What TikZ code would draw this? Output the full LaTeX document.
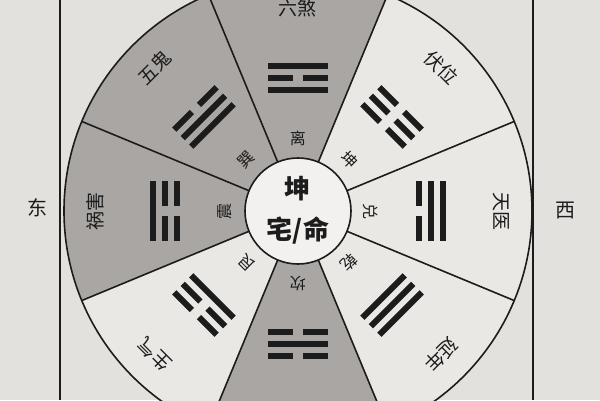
\documentclass[tikz,border=0pt]{standalone}
\usepackage{fontspec}
\newfontfamily\cjk{Noto Sans CJK SC}
\usetikzlibrary{calc}

\definecolor{paper}{HTML}{E3E1DE}
\definecolor{darksec}{HTML}{A9A6A3}
\definecolor{lightsec}{HTML}{EAE8E5}
\definecolor{hubfill}{HTML}{F2F1EF}
\definecolor{ink}{HTML}{1C1C1C}

\tikzset{
  yao/.style={line width=6, ink},
  rim/.style={line width=1.6, ink},
  gua/.style={font=\cjk\fontsize{16}{16}\selectfont, text=ink, inner sep=0},
  palace/.style={font=\cjk\fontsize{19}{19}\selectfont, text=ink, inner sep=0},
  hubtext/.style={font=\cjk\bfseries\fontsize{26}{26}\selectfont, text=ink, inner sep=0},
  side/.style={font=\cjk\fontsize{20}{20}\selectfont, text=ink, inner sep=0},
}

\begin{document}
\begin{tikzpicture}[x=1pt,y=1pt]
  % page and frame
  \useasboundingbox (-298,-189) rectangle (302,211);
  \fill[paper] (-298,-189) rectangle (302,211);
  \clip (-298,-189) rectangle (302,211);
  \coordinate (O) at (0,0);
  % the two table rules
  \draw[rim] (-238,-189) -- (-238,211);
  \draw[rim] (235,-189) -- (235,211);
  % eight sectors, dark ones first
  \foreach \a in {90,135,180,270}
    \fill[darksec] (O) -- (\a-22.5:234) arc[start angle=\a-22.5, end angle=\a+22.5, radius=234] -- cycle;
  \foreach \a in {45,0,315,225}
    \fill[lightsec] (O) -- (\a-22.5:234) arc[start angle=\a-22.5, end angle=\a+22.5, radius=234] -- cycle;
  \draw[rim] (O) circle[radius=234];
  % dividers
  \foreach \a in {22.5,67.5,...,337.5}
    \draw[rim] (\a:53) -- (\a:234);
  % trigrams: angle / bottom / middle / top line, bottom line outside
  \foreach \a/\b/\m/\t in {90/1/0/1, 135/0/1/1, 180/1/0/0, 225/0/0/1,
                            270/0/1/0, 315/1/1/1, 0/1/1/0, 45/0/0/0} {
    \begin{scope}[rotate=\a-90]
      \foreach \r/\s in {145/\b, 133/\m, 121/\t} {
        \ifnum\s=1
          \draw[yao] (-30,\r) -- (30,\r);
        \else
          \draw[yao] (-30,\r) -- (-5,\r) (5,\r) -- (30,\r);
        \fi
      }
    \end{scope}
  }
  % trigram names
  \foreach \a/\g in {90/离, 135/巽, 180/震, 225/艮, 270/坎, 315/乾, 0/兑, 45/坤}
    \node[gua, rotate=\a-90] (gua-\a) at (\a:73) {\g};
  % the eight palaces
  \foreach \a/\p in {90/六煞, 135/五鬼, 180/祸害, 225/生气, 315/延年, 0/天医, 45/伏位}
    \node[palace, rotate=\a-90] (palace-\a) at (\a:203) {\p};
  % hub
  \draw[rim, fill=hubfill] (O) circle[radius=53];
  \node[hubtext] (hub-top) at (0,22) {坤};
  \node[hubtext] (hub-bottom) at (0,-20) {宅/命};
  % east and west
  \node[side] (east) at (-260,3) {东};
  \node[side] (west) at (267,0) {西};
\end{tikzpicture}
\end{document}
